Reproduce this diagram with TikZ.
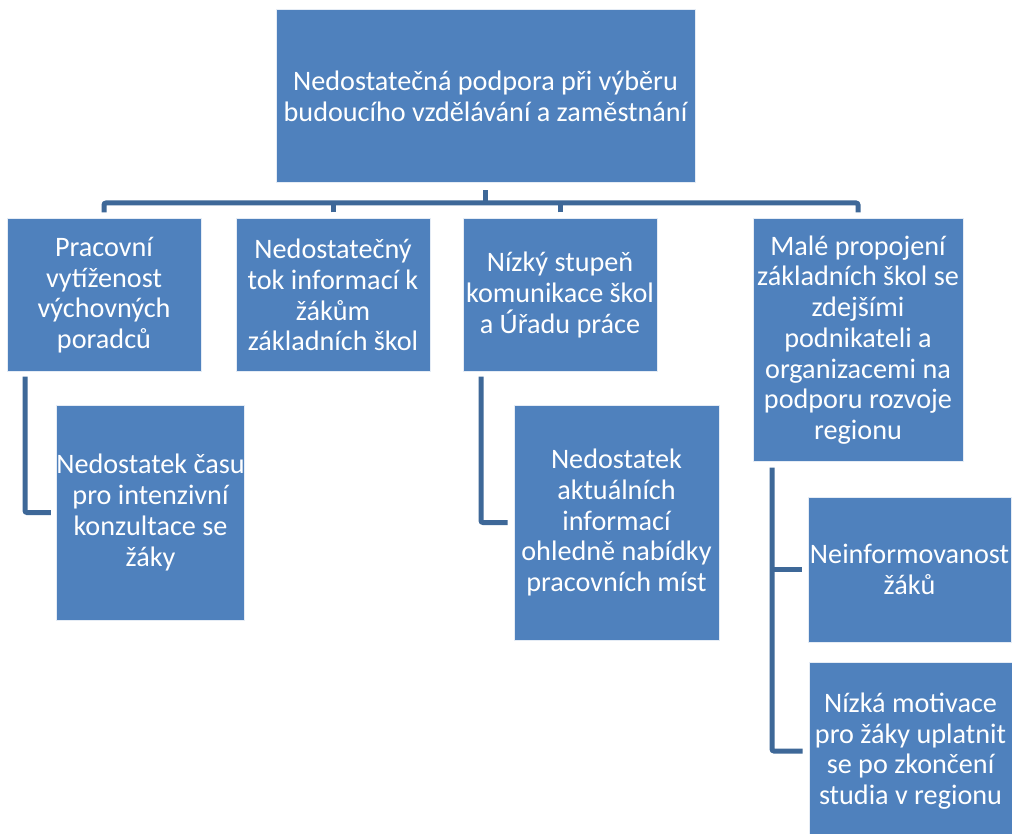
\documentclass[tikz,border=0pt]{standalone}
\usepackage{fontspec}
\setmainfont{Carlito}
\definecolor{boxfill}{HTML}{4F81BD}
\definecolor{linecol}{HTML}{3E6898}
\begin{document}
\begin{tikzpicture}[x=1pt,y=-1pt,
  box/.style={draw=white!85!boxfill, line width=1pt, fill=boxfill, text=white, inner sep=0pt, align=center,
    font=\fontsize{28.2}{30.7}\selectfont},
  conn/.style={draw=linecol, line width=5pt, rounded corners=2pt}]
\useasboundingbox (0,0) rectangle (1012,834);
\fill[white] (0,0) rectangle (1012,834);

\node[box, minimum width=419pt, minimum height=173pt] (top) at (485.5,96.5)
  {Nedostatečná podpora při výběru\\budoucího vzdělávání a zaměstnání};

\node[box, minimum width=194pt, minimum height=152pt] (c1) at (104,295)
  {Pracovní\\vytíženost\\výchovných\\poradců};
\node[box, minimum width=194pt, minimum height=152pt] (c2) at (333,295)
  {Nedostatečný\\tok informací k\\žákům\\základních škol};
\node[box, minimum width=194pt, minimum height=152pt] (c3) at (560,295)
  {Nízký stupeň\\komunikace škol\\a Úřadu práce};
\node[box, minimum width=210pt, minimum height=242pt] (c4) at (858,340)
  {Malé propojení\\základních škol se\\zdejšími\\podnikateli a\\organizacemi na\\podporu rozvoje\\regionu};

\node[box, minimum width=187pt, minimum height=215pt] (g1) at (150.5,512.5)
  {Nedostatek času\\pro intenzivní\\konzultace se\\žáky};
\node[box, minimum width=205pt, minimum height=235pt] (g3) at (616.5,522.5)
  {Nedostatek\\aktuálních\\informací\\ohledně nabídky\\pracovních míst};
\node[box, minimum width=203pt, minimum height=145pt] (g4a) at (909.5,569.5)
  {Neinformovanost\\žáků};
\node[box, minimum width=203pt, minimum height=178pt] (g4b) at (910.5,751)
  {Nízká motivace\\pro žáky uplatnit\\se po zkončení\\studia v regionu};

\coordinate (bus) at (0,203);
\draw[conn] ([yshift=-7pt]top.south) -- (top.south |- bus);
\draw[conn] ([yshift=6pt]c1.north) -- (c1.north |- bus) -- (c4.north |- bus) -- ([yshift=6pt]c4.north);
\draw[conn] ([yshift=6pt]c2.north) -- (c2.north |- bus);
\draw[conn] ([yshift=6pt]c3.north) -- (c3.north |- bus);

\draw[conn] ([xshift=-79pt,yshift=-5pt]c1.south) |- ([xshift=-5pt]g1.west);
\draw[conn] ([xshift=-79pt,yshift=-5pt]c3.south) |- ([xshift=-6pt]g3.west);
\draw[conn] ([xshift=-86pt,yshift=-6pt]c4.south) |- ([xshift=-6pt]g4b.west);
\draw[conn] ([xshift=-86pt]c4.south |- g4a.west) -- ([xshift=-6pt]g4a.west);
\end{tikzpicture}
\end{document}
